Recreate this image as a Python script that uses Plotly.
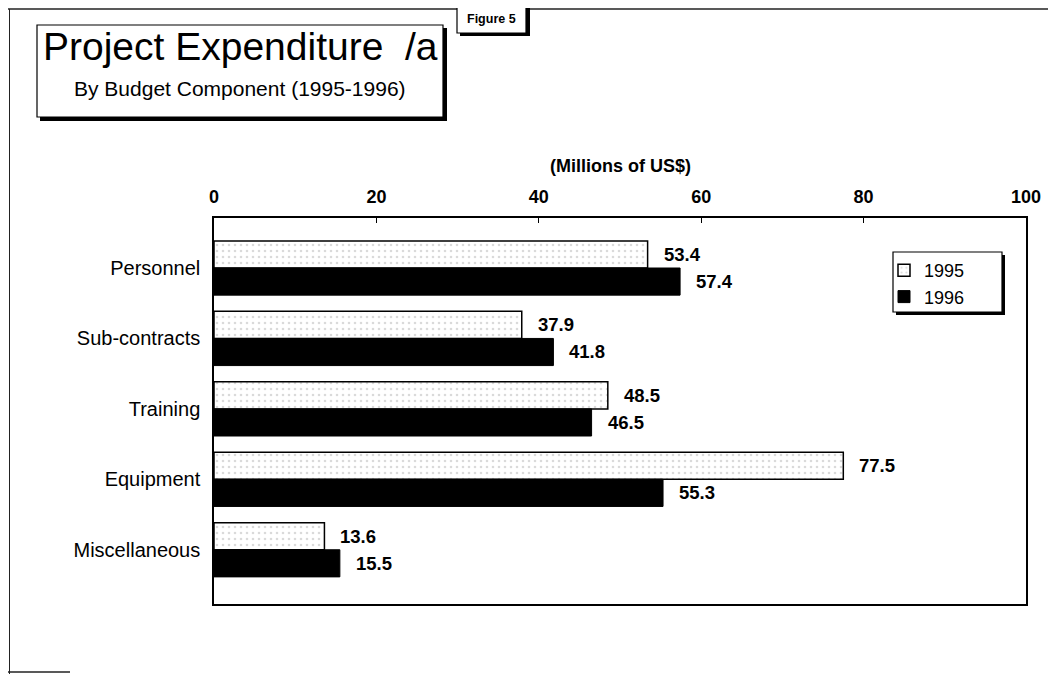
import plotly.graph_objects as go

categories = ["Personnel", "Sub-contracts", "Training", "Equipment", "Miscellaneous"]
values_1995 = [53.4, 37.9, 48.5, 77.5, 13.6]
values_1996 = [57.4, 41.8, 46.5, 55.3, 15.5]
x_ticks = [0, 20, 40, 60, 80, 100]
series_names = ["1995", "1996"]

# page offset (browser body margin)
O = 8
W, H = 1056 - O, 674 - O
# plot area in window pixels: x 214..1026, y 218..604
PL, PR, PT, PB = 214 - O, 1026 - O, 218 - O, 604 - O
L, R, T, B = PL, W - PR, PT, H - PB
PW, PH = PR - PL, PB - PT
FONT = "Arial, 'Liberation Sans', sans-serif"


def px(x):
    # window pixel x -> paper
    return (x - O - L) / PW


def py(y):
    # window pixel y -> paper
    return (PB - (y - O)) / PH


fig = go.Figure()
fig.add_trace(go.Bar(
    name=series_names[0], y=categories, x=values_1995, orientation="h",
    marker=dict(color="white", line=dict(color="black", width=1.5),
                pattern=dict(shape=".", fgcolor="#b5b5b5", bgcolor="white", size=6, solidity=0.15)),
))
fig.add_trace(go.Bar(
    name=series_names[1], y=categories, x=values_1996, orientation="h",
    marker=dict(color="black", line=dict(color="black", width=1)),
))

annotations = []
for vals, shift in ((values_1995, 13.5), (values_1996, -13.5)):
    for cat, v in zip(categories, vals):
        annotations.append(dict(
            x=v, y=cat, xref="x", yref="y", text=f"{v:.1f}", showarrow=False,
            xanchor="left", yanchor="middle", xshift=14, yshift=shift,
            font=dict(family=FONT, size=18.5, color="black", weight="bold"),
        ))

annotations += [
    dict(x=px(240), y=py(46), xref="paper", yref="paper", showarrow=False,
         text="Project Expenditure\u00a0\u00a0/a", xanchor="center", yanchor="middle",
         font=dict(family=FONT, size=39, color="black")),
    dict(x=px(240), y=py(89), xref="paper", yref="paper", showarrow=False,
         text="By Budget Component (1995-1996)", xanchor="center", yanchor="middle",
         font=dict(family=FONT, size=21, color="black")),
    dict(x=px(491), y=py(19), xref="paper", yref="paper", showarrow=False,
         text="Figure 5", xanchor="center", yanchor="middle",
         font=dict(family=FONT, size=12.5, color="black", weight="bold")),
    dict(x=0.5, y=py(166), xref="paper", yref="paper", showarrow=False,
         text="(Millions of US$)", xanchor="center", yanchor="middle",
         font=dict(family=FONT, size=18, color="black", weight="bold")),
]


def rect(x0, y0, x1, y1, fill="white", line="black", width=1.2):
    return dict(type="rect", xref="paper", yref="paper",
                x0=px(x0), x1=px(x1), y0=py(y1), y1=py(y0),
                fillcolor=fill, line=dict(color=line, width=width), layer="above")


def line(x0, y0, x1, y1, color="#222", width=1):
    return dict(type="line", xref="paper", yref="paper",
                x0=px(x0), x1=px(x1), y0=py(y0), y1=py(y1),
                line=dict(color=color, width=width), layer="above")


shapes = [
    line(8, 9, 1056, 9, width=1.5),
    line(9.5, 9, 9.5, 674, width=1),
    line(8, 672, 70, 672, width=1.5),
    rect(40, 28, 447, 121, fill="black", width=0),
    rect(37, 25, 443, 117),
    rect(460, 8, 530, 36, fill="black", width=0),
    rect(457, 5, 526, 33),
    rect(896, 255, 1005, 315, fill="black", width=0),
    rect(893, 252, 1002, 312),
]

fig.update_layout(
    width=W, height=H,
    margin=dict(l=L, r=R, t=T, b=B, autoexpand=False),
    paper_bgcolor="white", plot_bgcolor="white",
    barmode="group", bargap=0.23, bargroupgap=0,
    font=dict(family=FONT, color="black"),
    showlegend=True,
    legend=dict(x=px(884), y=py(252), xanchor="left", yanchor="top",
                bgcolor="rgba(0,0,0,0)", borderwidth=0,
                font=dict(family=FONT, size=18, color="black"),
                itemwidth=30, tracegroupgap=0, traceorder="normal"),
    xaxis=dict(range=[0, 100], side="top", tickvals=x_ticks, ticks="inside", ticklen=5,
               tickcolor="black", showline=True, mirror=True, linecolor="black", linewidth=1.5,
               showgrid=False, zeroline=False, ticklabelstandoff=6,
               tickfont=dict(family=FONT, size=18, color="black", weight="bold")),
    yaxis=dict(type="category", categoryorder="array", categoryarray=categories,
               range=[len(categories) - 1 + 0.77, -0.71], showline=True, mirror=True,
               linecolor="black", linewidth=1.5, showgrid=False, zeroline=False, ticks="",
               ticklabelstandoff=8,
               tickfont=dict(family=FONT, size=20, color="black")),
    annotations=annotations,
    shapes=shapes,
)

fig.write_html("out.html")
